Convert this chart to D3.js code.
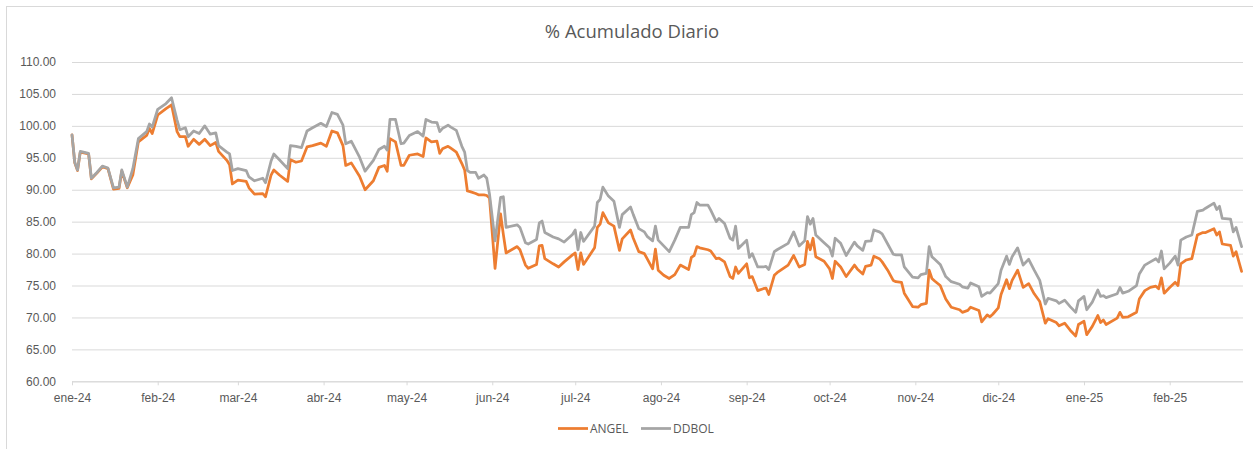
<!DOCTYPE html>
<html>
<head>
<meta charset="utf-8">
<script src="https://cdn.jsdelivr.net/npm/d3@7"></script>
<style>
  body { margin: 0; background: #fff; }
  svg { display: block; font-family: "Open Sans", sans-serif; }
</style>
</head>
<body>
<div id="chart"></div>
<script>
var dates = ["2024-01-01","2024-01-02","2024-01-03","2024-01-04","2024-01-07","2024-01-08","2024-01-10","2024-01-12","2024-01-14","2024-01-16",
"2024-01-18","2024-01-19","2024-01-21","2024-01-23","2024-01-25","2024-01-28","2024-01-29","2024-01-30","2024-02-01","2024-02-04",
"2024-02-06","2024-02-08","2024-02-09","2024-02-11","2024-02-12","2024-02-14","2024-02-16","2024-02-18","2024-02-20","2024-02-22",
"2024-02-23","2024-02-26","2024-02-27","2024-02-28","2024-03-01","2024-03-04","2024-03-05","2024-03-07","2024-03-10","2024-03-11",
"2024-03-13","2024-03-14","2024-03-16","2024-03-19","2024-03-20","2024-03-22","2024-03-24","2024-03-26","2024-03-28","2024-03-31",
"2024-04-02","2024-04-04","2024-04-06","2024-04-08","2024-04-09","2024-04-11","2024-04-14","2024-04-16","2024-04-19","2024-04-21",
"2024-04-23","2024-04-24","2024-04-25","2024-04-27","2024-04-29","2024-04-30","2024-05-02","2024-05-05","2024-05-07","2024-05-08",
"2024-05-10","2024-05-12","2024-05-13","2024-05-14","2024-05-16","2024-05-17","2024-05-19","2024-05-21","2024-05-22","2024-05-23",
"2024-05-24","2024-05-26","2024-05-27","2024-05-29","2024-05-30","2024-05-31","2024-06-02","2024-06-04","2024-06-05","2024-06-06",
"2024-06-10","2024-06-11","2024-06-13","2024-06-14","2024-06-17","2024-06-18","2024-06-19","2024-06-20","2024-06-23","2024-06-25",
"2024-06-27","2024-06-30","2024-07-01","2024-07-02","2024-07-03","2024-07-04","2024-07-08","2024-07-09","2024-07-10","2024-07-11",
"2024-07-13","2024-07-15","2024-07-17","2024-07-18","2024-07-21","2024-07-22","2024-07-24","2024-07-26","2024-07-27","2024-07-29",
"2024-07-30","2024-07-31","2024-08-02","2024-08-04","2024-08-06","2024-08-08","2024-08-11","2024-08-12","2024-08-13","2024-08-14",
"2024-08-15","2024-08-18","2024-08-19","2024-08-21","2024-08-22","2024-08-24","2024-08-26","2024-08-27","2024-08-28","2024-08-29",
"2024-09-01","2024-09-02","2024-09-03","2024-09-05","2024-09-07","2024-09-08","2024-09-09","2024-09-11","2024-09-12","2024-09-16",
"2024-09-18","2024-09-20","2024-09-22","2024-09-23","2024-09-24","2024-09-25","2024-09-26","2024-09-29","2024-10-01","2024-10-02",
"2024-10-03","2024-10-05","2024-10-07","2024-10-10","2024-10-11","2024-10-13","2024-10-14","2024-10-16","2024-10-17","2024-10-19",
"2024-10-20","2024-10-22","2024-10-24","2024-10-25","2024-10-27","2024-10-28","2024-10-31","2024-11-02","2024-11-03","2024-11-05",
"2024-11-06","2024-11-07","2024-11-08","2024-11-10","2024-11-12","2024-11-14","2024-11-17","2024-11-18","2024-11-20","2024-11-21",
"2024-11-24","2024-11-25","2024-11-27","2024-11-28","2024-11-29","2024-12-01","2024-12-02","2024-12-04","2024-12-05","2024-12-06",
"2024-12-08","2024-12-10","2024-12-12","2024-12-14","2024-12-16","2024-12-18","2024-12-19","2024-12-22","2024-12-23","2024-12-25",
"2024-12-27","2024-12-29","2024-12-30","2025-01-01","2025-01-02","2025-01-04","2025-01-06","2025-01-07","2025-01-08","2025-01-09",
"2025-01-13","2025-01-14","2025-01-15","2025-01-17","2025-01-20","2025-01-21","2025-01-23","2025-01-25","2025-01-27","2025-01-28",
"2025-01-29","2025-01-30","2025-02-01","2025-02-03","2025-02-04","2025-02-05","2025-02-07","2025-02-09","2025-02-11","2025-02-13",
"2025-02-14","2025-02-17","2025-02-18","2025-02-19","2025-02-20","2025-02-23","2025-02-24","2025-02-25","2025-02-27"];

var angel = [98.6,94.2,93.0,95.9,95.6,91.7,92.6,93.6,93.3,90.1,
90.2,92.9,90.3,92.3,97.5,98.5,99.6,98.8,101.7,102.7,
103.3,99.1,98.3,98.3,96.8,97.9,97.1,97.9,96.9,97.4,
96.0,94.6,93.9,90.9,91.5,91.3,90.3,89.3,89.4,88.9,
92.3,93.1,92.3,91.3,94.7,94.3,94.5,96.7,96.9,97.3,
96.8,99.2,98.9,96.9,93.8,94.2,92.1,90.0,91.4,93.5,
93.8,92.9,98.0,97.5,93.8,93.8,95.4,95.6,95.2,98.1,
97.5,97.6,95.7,96.4,96.8,96.5,95.9,94.1,93.1,89.8,
89.7,89.4,89.2,89.2,89.1,88.7,77.7,86.2,83.0,80.1,
81.1,80.6,78.2,77.7,78.3,81.2,81.3,79.2,78.4,77.9,
78.7,79.8,80.1,77.5,80.1,78.3,80.9,84.1,84.6,86.4,
84.8,84.3,80.5,82.3,83.7,82.4,80.3,80.0,79.2,77.6,
80.7,77.4,76.6,76.1,76.7,78.2,77.5,79.4,79.7,81.1,
80.9,80.6,80.4,79.2,79.3,78.7,76.4,76.1,77.9,76.9,
78.4,76.2,76.4,74.2,74.5,74.6,73.6,76.6,77.0,78.2,
79.7,77.9,78.3,81.9,80.6,82.4,79.5,78.8,77.6,76.1,
78.8,77.9,76.4,78.2,77.6,76.8,78.0,78.2,79.6,79.2,
78.7,77.4,75.8,75.6,75.5,73.8,71.7,71.6,72.0,72.2,
77.4,76.1,75.7,75.0,72.9,71.6,71.2,70.8,71.1,71.6,
71.1,69.3,70.4,70.1,70.5,71.5,73.6,75.9,74.5,75.8,
77.4,74.7,75.3,73.7,72.5,69.1,69.8,69.2,68.7,69.1,
68.0,67.1,68.9,69.4,67.3,68.6,70.3,69.2,69.6,68.9,
69.9,70.8,70.0,70.1,70.8,72.9,74.2,74.7,74.9,74.5,
76.2,73.8,74.7,75.5,75.0,78.4,79.0,79.2,82.9,83.3,
83.3,83.9,82.9,83.4,81.5,81.3,79.6,80.3,77.2];

var ddbol = [98.6,94.3,93.1,96.0,95.7,91.8,92.7,93.7,93.4,90.3,
90.4,93.1,90.4,93.3,98.0,99.1,100.3,99.8,102.6,103.5,
104.4,100.9,99.4,99.7,98.3,99.2,98.8,100.0,98.7,98.9,
96.9,95.9,95.6,93.0,93.3,93.0,92.0,91.4,91.8,91.1,
94.5,95.6,94.7,93.3,96.9,96.8,96.6,99.2,99.7,100.4,
99.9,102.1,101.8,100.1,97.2,97.6,95.1,92.9,94.6,96.3,
96.8,96.2,101.0,101.0,97.2,97.3,98.5,99.1,98.4,101.0,
100.6,100.5,99.1,99.6,100.1,99.8,99.3,96.8,95.9,93.0,
92.7,92.7,91.8,92.3,91.8,89.3,82.0,88.8,88.9,84.1,
84.5,84.1,81.7,81.5,82.2,84.8,85.1,83.3,82.6,82.3,
81.8,83.0,83.7,80.6,83.3,81.9,84.3,88.0,88.5,90.4,
89.0,88.2,84.1,86.1,87.3,86.1,83.9,83.4,82.7,82.0,
84.3,82.1,81.2,80.3,82.1,84.1,84.1,86.1,86.4,88.0,
87.6,87.6,86.8,85.0,85.5,84.7,82.4,82.1,84.3,80.8,
82.1,79.4,80.0,77.9,77.9,78.0,77.5,80.3,80.6,81.6,
83.4,81.2,82.0,85.8,84.6,85.5,82.9,81.7,80.9,79.6,
82.4,81.6,79.7,81.8,81.2,80.5,81.9,82.0,83.7,83.4,
83.1,81.5,79.9,79.8,79.8,77.9,76.3,76.2,76.7,76.9,
81.1,79.5,79.1,78.3,76.4,75.6,75.2,74.8,74.6,75.4,
74.8,73.3,73.9,73.8,74.3,75.3,77.4,79.6,78.3,79.5,
80.9,78.2,79.1,77.4,75.8,72.1,73.0,72.6,72.2,72.7,
71.7,70.8,72.6,73.3,71.2,72.4,74.3,73.3,73.4,73.1,
73.7,74.7,73.8,74.1,75.0,76.8,78.2,78.7,79.2,78.7,
80.4,77.6,78.5,79.6,78.2,82.1,82.6,82.9,86.6,86.8,
87.1,87.9,86.9,87.4,85.5,85.4,83.4,84.1,81.1];

var seriesNames = ["ANGEL", "DDBOL"];
var seriesColors = ["#ED7D31", "#A5A5A5"];
var yTicks = [60, 65, 70, 75, 80, 85, 90, 95, 100, 105, 110];
var monthLabels = ["ene","feb","mar","abr","may","jun","jul","ago","sep","oct","nov","dic"];

var W = 1253, H = 449;
var plotLeft = 72, plotRight = 1243, plotTop = 62, plotBottom = 381.3;

var parse = d3.utcParse("%Y-%m-%d");
var rows = dates.map(function(d, i) {
    return { date: parse(d), angel: angel[i], ddbol: ddbol[i] };
});

var svg = d3.select("#chart").append("svg")
    .attr("width", W)
    .attr("height", H);

// chart frame
svg.append("rect")
    .attr("x", 6.5).attr("y", 6.5)
    .attr("width", 1270).attr("height", 470)
    .attr("fill", "#fff")
    .attr("stroke", "#d9d9d9");

var x = d3.scaleUtc()
    .domain([parse("2024-01-01"), parse("2025-02-28")])
    .range([plotLeft, plotLeft + 424 * 2.765]);

var y = d3.scaleLinear()
    .domain([60, 110])
    .range([plotBottom, plotTop]);

// y gridlines + labels
svg.append("g")
    .attr("transform", "translate(" + plotLeft + ",0)")
    .call(d3.axisLeft(y)
        .tickValues(yTicks)
        .tickFormat(d3.format(".2f"))
        .tickSize(-(plotRight - plotLeft))
        .tickPadding(16))
    .call(function(g) {
        g.select(".domain").remove();
        g.selectAll(".tick line").attr("stroke", "#d9d9d9");
        g.selectAll(".tick text")
            .attr("fill", "#595959")
            .style("font-size", "12px");
    });

// x axis, ticks at month starts
var monthTicks = d3.utcMonth.range(parse("2024-01-01"), parse("2025-02-28"));
svg.append("g")
    .attr("transform", "translate(0," + plotBottom + ")")
    .call(d3.axisBottom(x)
        .tickValues(monthTicks)
        .tickSize(4)
        .tickSizeOuter(0)
        .tickPadding(8)
        .tickFormat(function(d) {
            return monthLabels[d.getUTCMonth()] + "-" + d3.utcFormat("%y")(d);
        }))
    .call(function(g) {
        g.select(".domain").attr("d", "M" + plotLeft + ",0.5H" + plotRight).attr("stroke", "#d9d9d9");
        g.selectAll(".tick line").attr("stroke", "#d9d9d9");
        g.selectAll(".tick text")
            .attr("fill", "#595959")
            .style("font-size", "12px");
    });

// lines
var keys = ["angel", "ddbol"];
keys.forEach(function(k, i) {
    var line = d3.line()
        .x(function(d) { return x(d.date); })
        .y(function(d) { return y(d[k]); });
    svg.append("path")
        .datum(rows)
        .attr("d", line)
        .attr("fill", "none")
        .attr("stroke", seriesColors[i])
        .attr("stroke-width", 2.75)
        .attr("stroke-linejoin", "round")
        .attr("stroke-linecap", "round");
});

// title
svg.append("text")
    .attr("x", 632)
    .attr("y", 38)
    .attr("text-anchor", "middle")
    .attr("fill", "#595959")
    .style("font-size", "18.5px")
    .text("% Acumulado Diario");

// legend
var legendX = [558, 641];
seriesNames.forEach(function(name, i) {
    svg.append("line")
        .attr("x1", legendX[i]).attr("x2", legendX[i] + 30)
        .attr("y1", 428.5).attr("y2", 428.5)
        .attr("stroke", seriesColors[i])
        .attr("stroke-width", 2.75);
    svg.append("text")
        .attr("x", legendX[i] + 32)
        .attr("y", 432.5)
        .attr("fill", "#595959")
        .style("font-size", "12px")
        .text(name);
});
</script>
</body>
</html>
